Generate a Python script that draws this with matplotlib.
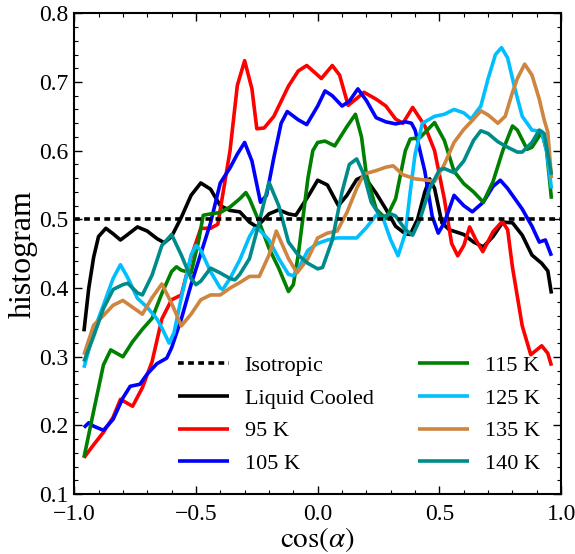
import matplotlib
matplotlib.use("Agg")
import matplotlib.pyplot as plt
from matplotlib.ticker import MultipleLocator

plt.rcParams['font.family'] = ['Liberation Serif', 'DejaVu Serif']
plt.rcParams['mathtext.fontset'] = 'stix'

# ---- data (x = cos(alpha), y = histogram) ----
lc_x = [-0.96, -0.94, -0.92, -0.90, -0.87, -0.84, -0.81, -0.78, -0.74, -0.70, -0.66, -0.63, -0.60,
        -0.56, -0.52, -0.48, -0.44, -0.40, -0.36, -0.32, -0.28, -0.25, -0.20, -0.16, -0.12, -0.09,
        -0.04, 0.00, 0.04, 0.085, 0.12, 0.16, 0.19, 0.24, 0.28, 0.32, 0.36, 0.38, 0.41, 0.44, 0.46,
        0.48, 0.51, 0.54, 0.60, 0.64, 0.68, 0.72, 0.76, 0.80, 0.84, 0.88, 0.92, 0.945, 0.96]
lc_y = [0.337, 0.400, 0.445, 0.475, 0.487, 0.479, 0.470, 0.478, 0.489, 0.483, 0.472, 0.466, 0.475,
        0.503, 0.535, 0.553, 0.544, 0.520, 0.513, 0.511, 0.496, 0.489, 0.508, 0.514, 0.508, 0.506,
        0.533, 0.557, 0.550, 0.520, 0.535, 0.558, 0.563, 0.538, 0.515, 0.490, 0.479, 0.478, 0.500,
        0.540, 0.559, 0.545, 0.495, 0.485, 0.478, 0.467, 0.460, 0.475, 0.496, 0.495, 0.477, 0.448,
        0.436, 0.425, 0.392]

k95_x = [-0.96, -0.92, -0.88, -0.84, -0.81, -0.76, -0.72, -0.68, -0.64, -0.60, -0.56, -0.52, -0.48,
         -0.44, -0.41, -0.36, -0.33, -0.30, -0.27, -0.25, -0.22, -0.18, -0.12, -0.08, -0.045, 0.00,
         0.015, 0.06, 0.09, 0.125, 0.16, 0.19, 0.24, 0.28, 0.32, 0.35, 0.39, 0.44, 0.48, 0.52, 0.55,
         0.575, 0.60, 0.624, 0.65, 0.678, 0.72, 0.758, 0.78, 0.80, 0.84, 0.875, 0.92, 0.945, 0.96]
k95_y = [0.153, 0.172, 0.190, 0.212, 0.238, 0.228, 0.255, 0.293, 0.355, 0.383, 0.390, 0.445, 0.487,
         0.487, 0.493, 0.600, 0.695, 0.731, 0.690, 0.632, 0.633, 0.650, 0.694, 0.716, 0.724, 0.710,
         0.705, 0.724, 0.710, 0.666, 0.676, 0.685, 0.675, 0.665, 0.646, 0.640, 0.663, 0.636, 0.600,
         0.530, 0.465, 0.447, 0.462, 0.489, 0.470, 0.453, 0.482, 0.497, 0.485, 0.430, 0.345, 0.303,
         0.316, 0.305, 0.287]

k105_x = [-0.96, -0.94, -0.92, -0.88, -0.84, -0.80, -0.77, -0.73, -0.70, -0.66, -0.62, -0.60, -0.56,
          -0.52, -0.48, -0.44, -0.40, -0.36, -0.33, -0.30, -0.27, -0.235, -0.21, -0.18, -0.15,
          -0.125, -0.08, -0.045, 0.00, 0.03, 0.06, 0.10, 0.13, 0.165, 0.20, 0.24, 0.28, 0.32, 0.36,
          0.385, 0.40, 0.44, 0.47, 0.495, 0.52, 0.56, 0.60, 0.635, 0.68, 0.72, 0.75, 0.78, 0.80,
          0.84, 0.88, 0.91, 0.935, 0.96]
k105_y = [0.197, 0.204, 0.199, 0.193, 0.209, 0.240, 0.257, 0.260, 0.275, 0.290, 0.298, 0.313, 0.355,
          0.405, 0.450, 0.495, 0.553, 0.575, 0.595, 0.612, 0.585, 0.525, 0.535, 0.590, 0.640,
          0.657, 0.645, 0.638, 0.665, 0.687, 0.680, 0.665, 0.672, 0.690, 0.673, 0.648, 0.642, 0.639,
          0.642, 0.640, 0.630, 0.570, 0.505, 0.480, 0.495, 0.535, 0.520, 0.511, 0.525, 0.548, 0.557,
          0.545, 0.535, 0.515, 0.490, 0.467, 0.470, 0.447]

k115_x = [-0.96, -0.92, -0.88, -0.85, -0.80, -0.76, -0.72, -0.68, -0.64, -0.60, -0.58, -0.56, -0.52,
          -0.49, -0.47, -0.44, -0.40, -0.36, -0.32, -0.295, -0.28, -0.24, -0.20, -0.16, -0.12, -0.10,
          -0.08, -0.04, -0.02, 0.00, 0.03, 0.07, 0.12, 0.155, 0.18, 0.20, 0.24, 0.28, 0.32, 0.36,
          0.38, 0.42, 0.48, 0.52, 0.56, 0.60, 0.64, 0.68, 0.72, 0.76, 0.80, 0.82, 0.86, 0.88, 0.92,
          0.94, 0.96]
k115_y = [0.153, 0.221, 0.288, 0.310, 0.300, 0.322, 0.340, 0.356, 0.392, 0.424, 0.431, 0.426, 0.422,
          0.467, 0.506, 0.508, 0.510, 0.518, 0.530, 0.539, 0.530, 0.496, 0.458, 0.429, 0.395, 0.405,
          0.448, 0.560, 0.600, 0.612, 0.614, 0.607, 0.635, 0.653, 0.620, 0.565, 0.515, 0.501, 0.530,
          0.600, 0.617, 0.619, 0.641, 0.615, 0.570, 0.552, 0.540, 0.525, 0.555, 0.600, 0.636, 0.630,
          0.602, 0.605, 0.627, 0.600, 0.530]

k125_x = [-0.96, -0.92, -0.88, -0.84, -0.81, -0.78, -0.74, -0.70, -0.66, -0.64, -0.61, -0.59, -0.56,
          -0.52, -0.50, -0.48, -0.44, -0.40, -0.39, -0.36, -0.32, -0.28, -0.26, -0.24, -0.20, -0.16,
          -0.12, -0.10, -0.08, -0.04, 0.00, 0.04, 0.08, 0.12, 0.16, 0.20, 0.24, 0.27, 0.30, 0.33,
          0.36, 0.38, 0.40, 0.43, 0.48, 0.52, 0.56, 0.60, 0.63, 0.67, 0.70, 0.73, 0.755, 0.78, 0.81,
          0.84, 0.88, 0.92, 0.94, 0.96]
k125_y = [0.284, 0.337, 0.375, 0.414, 0.434, 0.415, 0.385, 0.372, 0.355, 0.342, 0.320, 0.335, 0.386,
          0.448, 0.462, 0.455, 0.424, 0.400, 0.398, 0.414, 0.441, 0.475, 0.487, 0.485, 0.470, 0.443,
          0.420, 0.418, 0.428, 0.455, 0.465, 0.470, 0.473, 0.473, 0.473, 0.488, 0.506, 0.500, 0.470,
          0.447, 0.480, 0.540, 0.595, 0.640, 0.650, 0.653, 0.660, 0.655, 0.646, 0.665, 0.705, 0.740,
          0.750, 0.735, 0.690, 0.650, 0.630, 0.628, 0.600, 0.545]

k135_x = [-0.96, -0.92, -0.88, -0.84, -0.80, -0.76, -0.72, -0.68, -0.64, -0.60, -0.56, -0.52, -0.48,
          -0.44, -0.40, -0.36, -0.32, -0.28, -0.24, -0.20, -0.17, -0.12, -0.085, -0.04, 0.00, 0.04,
          0.08, 0.12, 0.16, 0.19, 0.24, 0.28, 0.31, 0.35, 0.40, 0.45, 0.48, 0.52, 0.56, 0.60, 0.64,
          0.67, 0.70, 0.74, 0.77, 0.80, 0.82, 0.85, 0.88, 0.91, 0.93, 0.945, 0.96]
k135_y = [0.303, 0.346, 0.360, 0.375, 0.382, 0.372, 0.362, 0.386, 0.406, 0.378, 0.345, 0.362, 0.383,
          0.390, 0.390, 0.400, 0.408, 0.417, 0.417, 0.448, 0.483, 0.443, 0.422, 0.443, 0.473, 0.480,
          0.483, 0.510, 0.545, 0.566, 0.571, 0.576, 0.578, 0.565, 0.559, 0.557, 0.555, 0.580, 0.612,
          0.631, 0.646, 0.658, 0.652, 0.640, 0.650, 0.685, 0.705, 0.726, 0.710, 0.675, 0.645, 0.627,
          0.560]

k140_x = [-0.96, -0.92, -0.88, -0.84, -0.80, -0.78, -0.74, -0.72, -0.68, -0.64, -0.60, -0.56, -0.52,
          -0.50, -0.48, -0.44, -0.40, -0.36, -0.34, -0.32, -0.28, -0.24, -0.20, -0.16, -0.12, -0.08,
          -0.04, 0.00, 0.02, 0.06, 0.10, 0.13, 0.16, 0.19, 0.22, 0.26, 0.30, 0.32, 0.36, 0.39, 0.42,
          0.46, 0.50, 0.52, 0.56, 0.60, 0.64, 0.67, 0.70, 0.74, 0.78, 0.82, 0.84, 0.88, 0.91, 0.93,
          0.96]
k140_y = [0.293, 0.330, 0.370, 0.398, 0.405, 0.407, 0.393, 0.390, 0.419, 0.462, 0.478, 0.448, 0.414,
          0.405, 0.410, 0.429, 0.422, 0.414, 0.412, 0.420, 0.443, 0.496, 0.554, 0.520, 0.467, 0.448,
          0.436, 0.428, 0.430, 0.470, 0.540, 0.580, 0.588, 0.565, 0.525, 0.503, 0.508, 0.505, 0.485,
          0.477, 0.500, 0.545, 0.572, 0.574, 0.568, 0.585, 0.615, 0.629, 0.625, 0.613, 0.605, 0.598,
          0.598, 0.612, 0.630, 0.625, 0.565]

iso_x = [-1.0, 1.0]
iso_y = [0.5, 0.5]

series = [
    (lc_x, lc_y, 'Liquid Cooled', 'black'),
    (k95_x, k95_y, '95 K', '#ff0000'),
    (k105_x, k105_y, '105 K', '#0000ff'),
    (k115_x, k115_y, '115 K', '#008000'),
    (k125_x, k125_y, '125 K', '#00bfff'),
    (k135_x, k135_y, '135 K', '#cd853f'),
    (k140_x, k140_y, '140 K', '#008b8b'),
]

fig = plt.figure(figsize=(5.75, 5.54), dpi=100)
ax = fig.add_axes([0.129, 0.108, 0.847, 0.868])

iso, = ax.plot(iso_x, iso_y, color='black', lw=2.6, ls=(0, (1.6, 1.2)), label='Isotropic', zorder=3)
handles = [iso]
for xs, ys, lab, col in series:
    h, = ax.plot(xs, ys, color=col, lw=2.6, label=lab, solid_joinstyle='round', solid_capstyle='butt')
    handles.append(h)

ax.set_xlim(-1.0, 1.0)
ax.set_ylim(0.1, 0.8)
ax.xaxis.set_major_locator(MultipleLocator(0.5))
ax.xaxis.set_minor_locator(MultipleLocator(0.1))
ax.yaxis.set_major_locator(MultipleLocator(0.1))
ax.yaxis.set_minor_locator(MultipleLocator(0.02))
ax.tick_params(which='both', direction='in', top=True, right=True, labelsize=17)
ax.tick_params(axis='x', pad=7)
ax.tick_params(axis='y', pad=4)
ax.tick_params(which='major', length=6, width=1.0)
ax.tick_params(which='minor', length=3, width=0.8)
for sp in ax.spines.values():
    sp.set_linewidth(1.5)

ax.set_xlabel(r'$\cos(\alpha)$', fontsize=21, labelpad=0)
ax.set_ylabel('histogram', fontsize=23, labelpad=1)

ax.legend(handles=handles, ncol=2, loc='lower right', bbox_to_anchor=(0.997, 0.0),
          frameon=False, fontsize=16, handlelength=2.3, columnspacing=2.0,
          labelspacing=0.55, handletextpad=0.7)

fig.savefig('out.png', dpi=100)
